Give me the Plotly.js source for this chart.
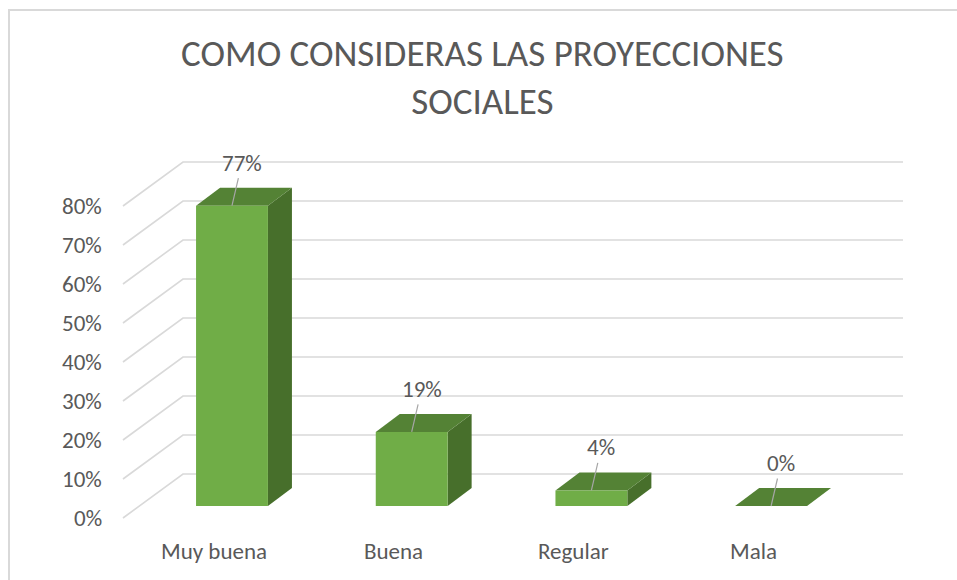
<!DOCTYPE html>
<html><head><meta charset="utf-8">
<script src="https://cdn.plot.ly/plotly-3.0.1.min.js"></script>
<style>html,body{margin:0;padding:0;background:#fff}#chart{width:957px;height:580px}</style>
</head><body><div id="chart"></div>
<script>
// ---- data ----
const categories = ['Muy buena', 'Buena', 'Regular', 'Mala'];
const values = [77, 19, 4, 0];
const valueLabels = ['77%', '19%', '4%', '0%'];
const tickValues = [0, 10, 20, 30, 40, 50, 60, 70, 80];
const tickLabels = ['0%', '10%', '20%', '30%', '40%', '50%', '60%', '70%', '80%'];
const titleText = 'COMO CONSIDERAS LAS PROYECCIONES<br>SOCIALES';

// ---- pseudo-3D projection (axis units) ----
const HALF = 0.2;          // half bar width
const DX = 0.1336, DY = 4.615;   // bar depth offset
const WALL_X0 = -0.2727, WALL_X1 = 3.734, WALL_DY = 8.205;  // back wall
const FRONT_X = -0.6066, FRONT_DY = -3.077;                 // label plane
const LABEL_X = -0.715;
const CAT_DX = -0.1, CAT_Y = -11.54;

const GRID = '#D9D9D9', TXT = '#595959';
const FRONT = '#70AD47', TOP = '#548235', SIDE = '#476F2B';
const FONT = 'Carlito, Lato, sans-serif';

const traces = [];
// back wall gridlines + left wall diagonals
const gx = [], gy = [];
tickValues.forEach(v => {
  gx.push(FRONT_X, WALL_X0, WALL_X1, null);
  gy.push(v + FRONT_DY, v + WALL_DY, v + WALL_DY, null);
});
traces.push({type: 'scatter', mode: 'lines', x: gx, y: gy, line: {color: GRID, width: 1.6},
  hoverinfo: 'skip', showlegend: false});

// bars
categories.forEach((c, i) => {
  const v = values[i];
  const xl = i - HALF, xr = i + HALF;
  traces.push({type: 'scatter', mode: 'lines', fill: 'toself', fillcolor: SIDE, line: {width: 0, color: SIDE},
    x: [xr, xr + DX, xr + DX, xr, xr], y: [0, DY, v + DY, v, 0], hoverinfo: 'skip', showlegend: false});
  traces.push({type: 'scatter', mode: 'lines', fill: 'toself', fillcolor: TOP, line: {width: 0, color: TOP},
    x: [xl, xl + DX, xr + DX, xr, xl], y: [v, v + DY, v + DY, v, v], hoverinfo: 'skip', showlegend: false});
  if (v > 0) {
    traces.push({type: 'scatter', mode: 'lines', fill: 'toself', fillcolor: FRONT, line: {width: 0, color: FRONT},
      x: [xl, xr, xr, xl, xl], y: [0, 0, v, v, 0], hoverinfo: 'skip', showlegend: false});
  }
});

const annotations = [];
tickValues.forEach((v, k) => {
  annotations.push({x: LABEL_X, y: v + FRONT_DY, xref: 'x', yref: 'y', text: tickLabels[k], showarrow: false,
    xanchor: 'right', yanchor: 'middle', font: {family: FONT, size: 23, color: TXT}});
});
categories.forEach((c, i) => {
  annotations.push({x: i + CAT_DX, y: CAT_Y, xref: 'x', yref: 'y', text: c, showarrow: false,
    xanchor: 'center', yanchor: 'middle', font: {family: FONT, size: 23, color: TXT}});
  annotations.push({x: i, y: values[i], xref: 'x', yref: 'y', text: valueLabels[i], showarrow: true,
    arrowhead: 0, arrowwidth: 1.2, arrowcolor: '#A6A6A6', ax: 10, ay: -43, standoff: 0,
    font: {family: FONT, size: 23, color: TXT}});
});

const layout = {
  width: 957, height: 580,
  margin: {l: 0, r: 0, t: 0, b: 0},
  paper_bgcolor: '#fff', plot_bgcolor: '#fff',
  showlegend: false,
  title: {text: titleText, x: 0.504, xanchor: 'center', y: 1 - 66 / 580, yanchor: 'top', yref: 'paper',
    font: {family: FONT, size: 37, color: TXT}},
  xaxis: {range: [-1.2910, 4.0345], visible: false, fixedrange: true},
  yaxis: {range: [-18.974, 129.744], visible: false, fixedrange: true},
  annotations: annotations,
  shapes: [{type: 'rect', xref: 'paper', yref: 'paper', x0: 9 / 957, x1: 1.05, y0: -0.1, y1: 1 - 10 / 580,
    line: {color: GRID, width: 2}, fillcolor: 'rgba(0,0,0,0)', layer: 'below'}]
};

Plotly.newPlot('chart', traces, layout, {displayModeBar: false, staticPlot: true});
</script>
</body></html>
